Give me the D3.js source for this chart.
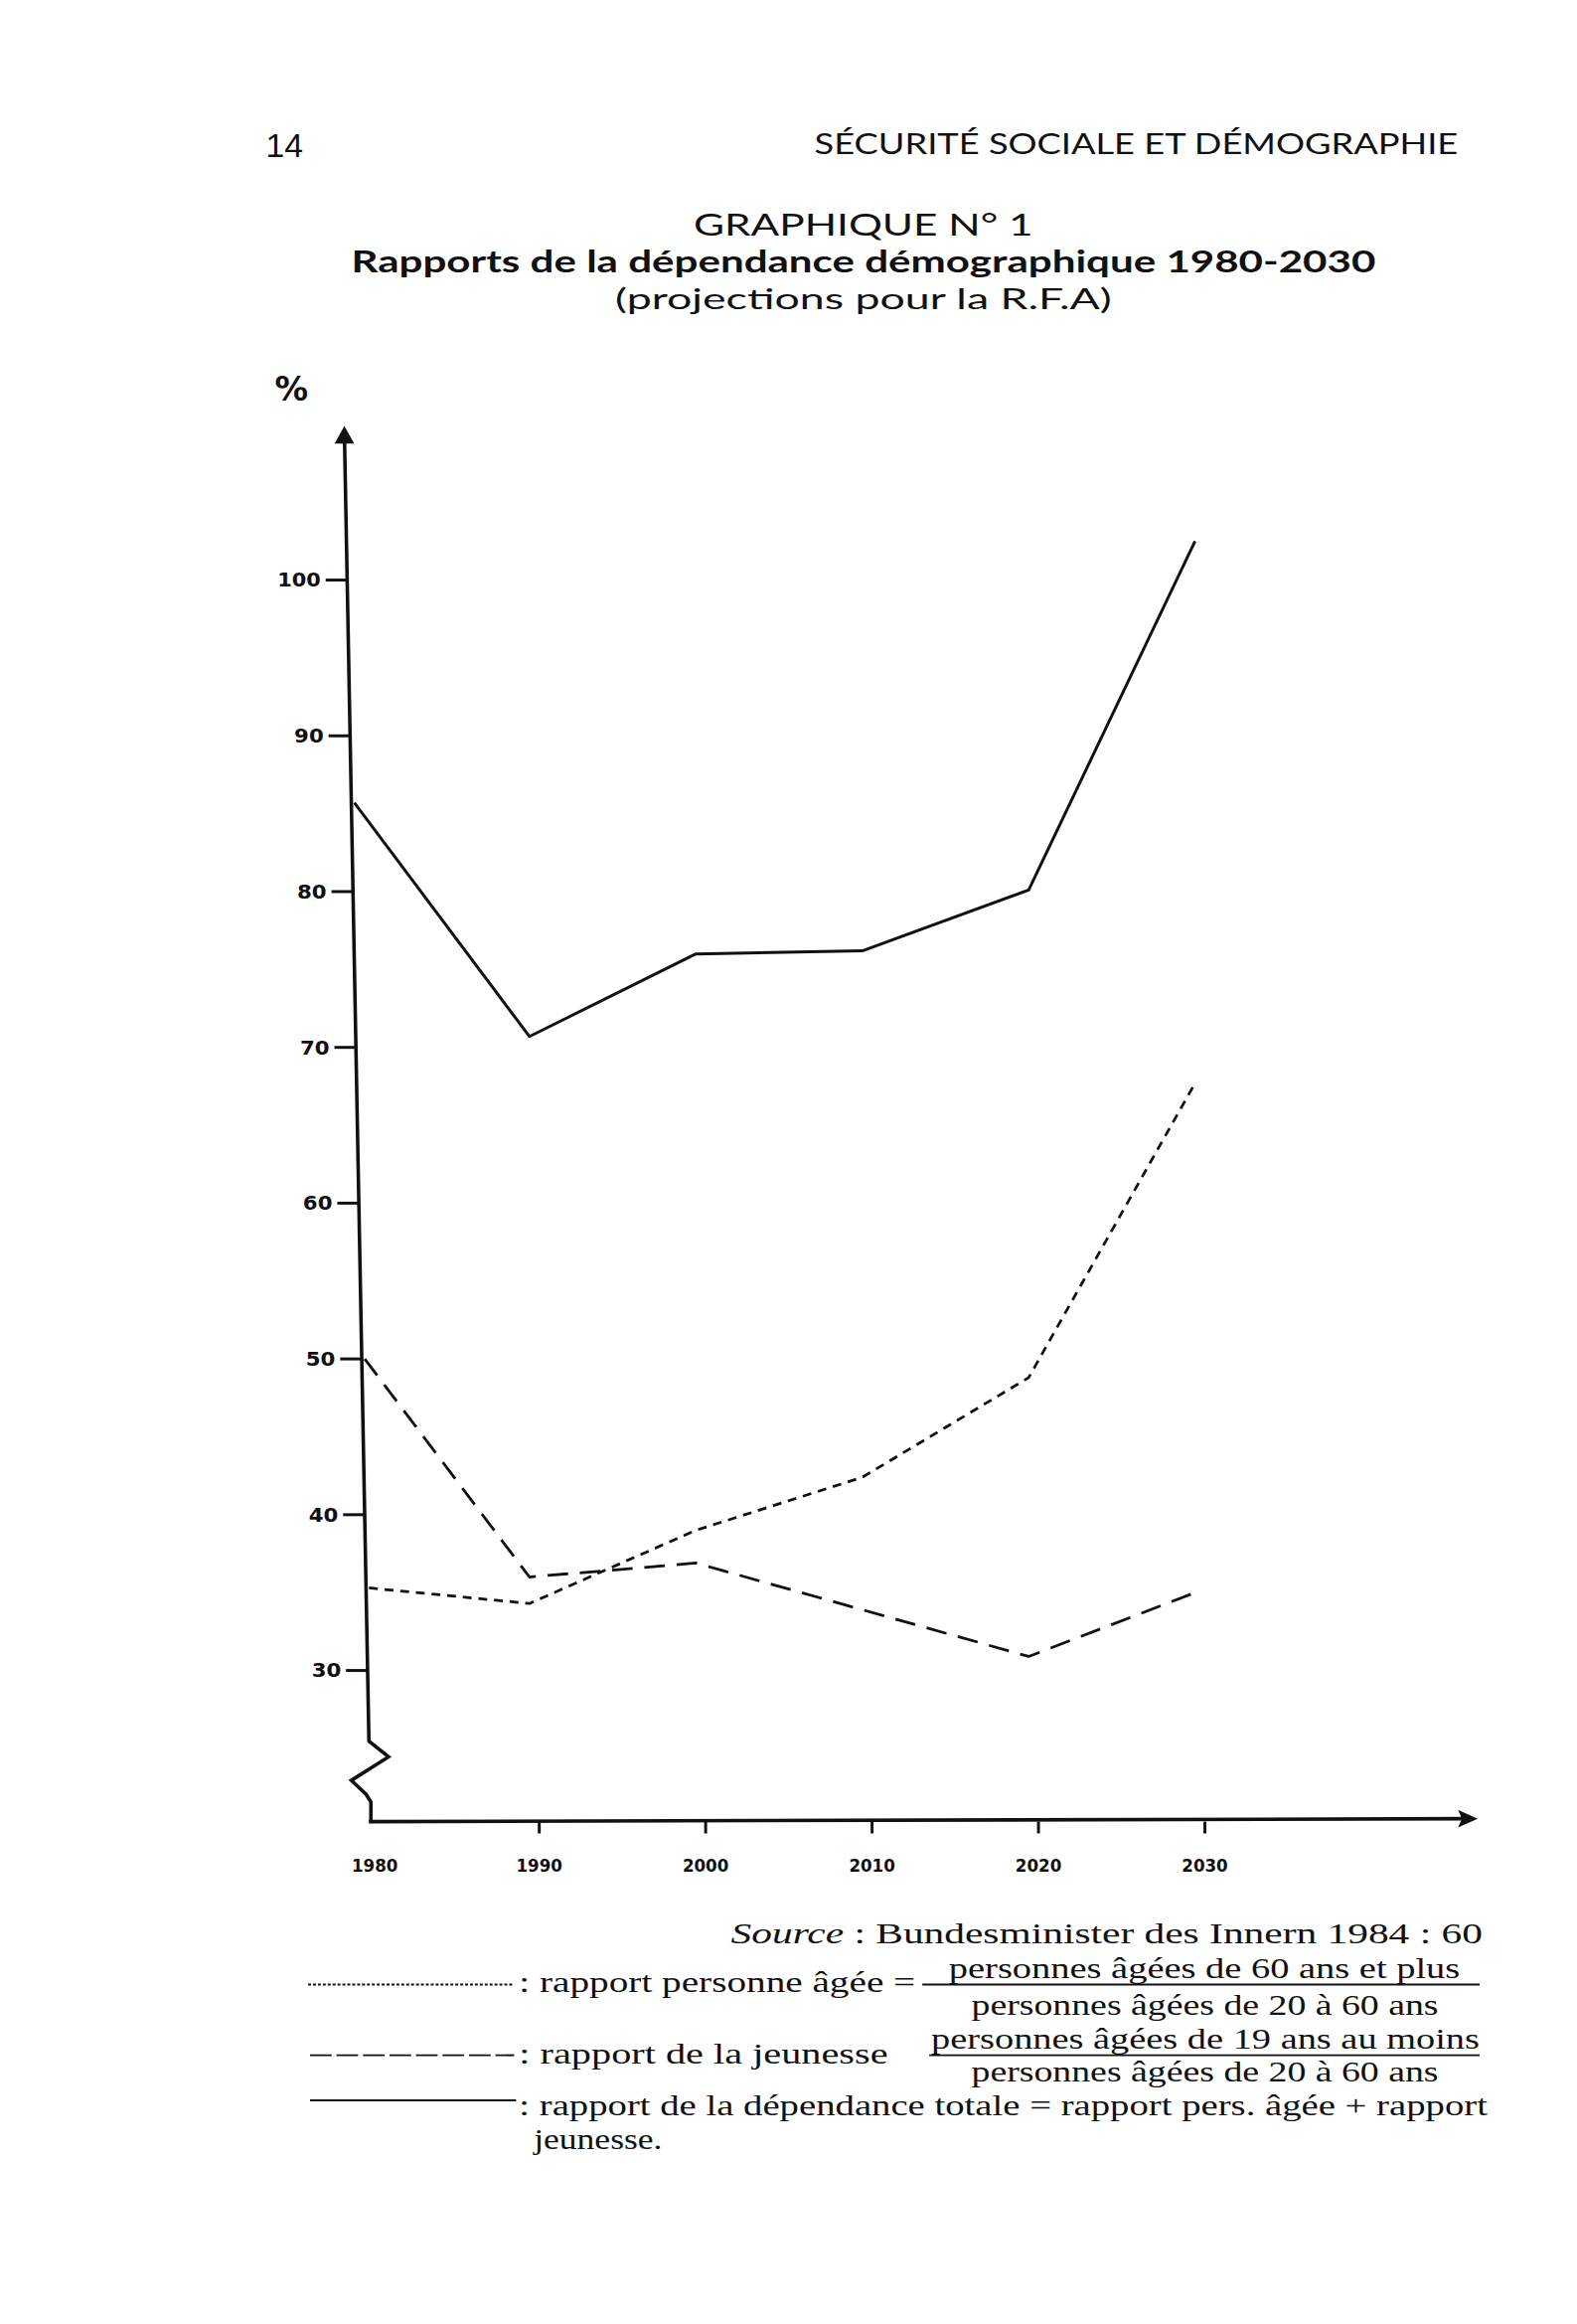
<!DOCTYPE html>
<html><head><meta charset="utf-8">
<script src="https://cdn.jsdelivr.net/npm/d3@7/dist/d3.min.js"></script>
<style>body{margin:0;background:#fff}svg{display:block}</style>
</head><body>
<svg id="c" width="1587" height="2338"></svg>
<script>
// ---- data ----
const years = [1980, 1990, 2000, 2010, 2020, 2030];
const totalRatio   = [85.7, 70.7, 76.0, 76.2, 80.1, 102.5];
const elderlyRatio = [35.3, 34.3, 39.0, 42.4, 48.8, 67.7];
const youthRatio   = [50.0, 36.0, 36.9, 33.9, 30.9, 35.0];
const yTickValues  = [30, 40, 50, 60, 70, 80, 90, 100];
const xTickLabels  = ["1980", "1990", "2000", "2010", "2020", "2030"];

const svg = d3.select("#c");
const root = svg.append("g").attr("transform", "scale(0.9874)");
const ink = "#111";

// scales
const x = d3.scaleLinear().domain([1980, 2030]).range([370, 1218]);
const y = d3.scaleLinear().domain([30, 100]).range([1702, 591]);
// hand-drawn y axis drifts slightly to the right going down
const axisTop = 434, axisBottom = 1774;
const axisX = d3.scaleLinear().domain([axisTop, axisBottom]).range([351, 376]);
const xAxisY = 1856;

// ---- header ----
root.append("text").attr("x", 271).attr("y", 160)
  .attr("font-family", "Liberation Sans").attr("font-size", 34).attr("fill", ink)
  .attr("textLength", 38).attr("lengthAdjust", "spacingAndGlyphs").text("14");
root.append("text").attr("x", 830).attr("y", 157)
  .attr("font-family", "Lato").attr("font-size", 30).attr("fill", ink)
  .attr("textLength", 656).attr("lengthAdjust", "spacingAndGlyphs")
  .text("SÉCURITÉ SOCIALE ET DÉMOGRAPHIE");
root.append("text").attr("x", 707).attr("y", 240)
  .attr("font-family", "Lato").attr("font-size", 31).attr("fill", ink)
  .attr("textLength", 346).attr("lengthAdjust", "spacingAndGlyphs")
  .text("GRAPHIQUE N° 1");
root.append("text").attr("x", 358).attr("y", 277)
  .attr("font-family", "Lato").attr("font-weight", "bold").attr("font-size", 30).attr("fill", ink)
  .attr("textLength", 1044).attr("lengthAdjust", "spacingAndGlyphs")
  .text("Rapports de la dépendance démographique 1980-2030");
root.append("text").attr("x", 627).attr("y", 315)
  .attr("font-family", "Lato").attr("font-size", 29).attr("fill", ink)
  .attr("textLength", 506).attr("lengthAdjust", "spacingAndGlyphs")
  .text("(projections pour la R.F.A)");

// "%" unit
root.append("text").attr("x", 280).attr("y", 408)
  .attr("font-family", "DejaVu Sans").attr("font-weight", "bold").attr("font-size", 34).attr("fill", ink)
  .text("%");

// ---- y axis (tilted, with arrow and break) ----
root.append("path")
  .attr("d", `M${axisX(axisTop)},${axisTop + 6} L${axisX(axisBottom)},${axisBottom}
              L396,1790 L358,1814 L373,1828 L378,1836 L378,${xAxisY}`)
  .attr("fill", "none").attr("stroke", ink).attr("stroke-width", 3.6).attr("stroke-linejoin", "miter");
root.append("path")
  .attr("d", `M${axisX(axisTop)},${axisTop} L${axisX(axisTop) - 10},${axisTop + 18} L${axisX(axisTop) + 10},${axisTop + 18} Z`)
  .attr("fill", ink);

// y ticks
const yt = root.append("g");
yTickValues.forEach(v => {
  const ty = y(v), ax = axisX(ty);
  yt.append("line").attr("x1", ax - 22).attr("x2", ax).attr("y1", ty).attr("y2", ty)
    .attr("stroke", ink).attr("stroke-width", 3);
  yt.append("text").attr("x", ax - 27).attr("y", ty + 7)
    .attr("text-anchor", "end").attr("font-family", "DejaVu Sans").attr("font-weight", "bold")
    .attr("font-size", 19).attr("fill", ink)
    .attr("textLength", v >= 100 ? 44 : 30).attr("lengthAdjust", "spacingAndGlyphs")
    .text(v);
});

// ---- x axis ----
root.append("line").attr("x1", 376).attr("x2", 1496).attr("y1", xAxisY).attr("y2", xAxisY - 3)
  .attr("stroke", ink).attr("stroke-width", 3.6);
root.append("path")
  .attr("d", `M1506,${xAxisY - 3} L1486,${xAxisY - 12} L1490,${xAxisY - 3} L1486,${xAxisY + 6} Z`)
  .attr("fill", ink);
const xt = root.append("g");
years.forEach((yr, i) => {
  const tx = x(yr) + 10;
  if (i > 0) {
    xt.append("line").attr("x1", tx).attr("x2", tx).attr("y1", xAxisY).attr("y2", xAxisY + 12)
      .attr("stroke", ink).attr("stroke-width", 3);
  }
  xt.append("text").attr("x", i === 0 ? 382 : tx).attr("y", 1907)
    .attr("text-anchor", "middle").attr("font-family", "DejaVu Sans").attr("font-weight", "bold")
    .attr("font-size", 18).attr("fill", ink)
    .attr("textLength", 47).attr("lengthAdjust", "spacingAndGlyphs")
    .text(xTickLabels[i]);
});

// ---- series ----
function pts(values) {
  return years.map((yr, i) => {
    const py = y(values[i]);
    const px = i === 0 ? axisX(py) + 3 : x(yr);
    return [px, py];
  });
}
const line = d3.line();
const series = [
  { vals: totalRatio,   dash: null,    w: 3.0 },
  { vals: elderlyRatio, dash: "9,7",   w: 2.8 },
  { vals: youthRatio,   dash: "21,12", w: 2.8 }
];
series.forEach(s => {
  root.append("path").attr("d", line(pts(s.vals)))
    .attr("fill", "none").attr("stroke", ink).attr("stroke-width", s.w)
    .attr("stroke-linejoin", "round")
    .attr("stroke-dasharray", s.dash);
});

// ---- source & legend ----
const serif = "Liberation Serif";
const lg = root.append("g").attr("font-family", serif).attr("fill", ink).attr("font-size", 29);
const src = lg.append("text").attr("x", 745).attr("y", 1980)
  .attr("textLength", 766).attr("lengthAdjust", "spacingAndGlyphs");
src.append("tspan").attr("font-style", "italic").text("Source");
src.append("tspan").text(" : Bundesminister des Innern 1984 : 60");

// legend samples
lg.append("line").attr("x1", 314).attr("x2", 524).attr("y1", 2022).attr("y2", 2022)
  .attr("stroke", ink).attr("stroke-width", 2).attr("stroke-dasharray", "3,2");
lg.append("line").attr("x1", 316).attr("x2", 524).attr("y1", 2094).attr("y2", 2094)
  .attr("stroke", ink).attr("stroke-width", 2).attr("stroke-dasharray", "22,5");
lg.append("line").attr("x1", 316).attr("x2", 526).attr("y1", 2140).attr("y2", 2140)
  .attr("stroke", ink).attr("stroke-width", 2);

function t(xp, yp, len, str) {
  lg.append("text").attr("x", xp).attr("y", yp)
    .attr("textLength", len).attr("lengthAdjust", "spacingAndGlyphs").text(str);
}
// row 1
t(529, 2030, 404, ": rapport personne âgée =");
t(967, 2015, 521, "personnes âgées de 60 ans et plus");
lg.append("line").attr("x1", 940).attr("x2", 1508).attr("y1", 2022).attr("y2", 2022)
  .attr("stroke", ink).attr("stroke-width", 2);
t(990, 2053, 476, "personnes âgées de 20 à 60 ans");
// row 2
t(529, 2102, 376, ": rapport de la jeunesse");
t(949, 2087, 559, "personnes âgées de 19 ans au moins");
lg.append("line").attr("x1", 947).attr("x2", 1508).attr("y1", 2094).attr("y2", 2094)
  .attr("stroke", ink).attr("stroke-width", 2);
t(990, 2121, 476, "personnes âgées de 20 à 60 ans");
// row 3
t(529, 2155, 987, ": rapport de la dépendance totale = rapport pers. âgée + rapport");
t(544, 2190, 131, "jeunesse.");
</script>
</body></html>
